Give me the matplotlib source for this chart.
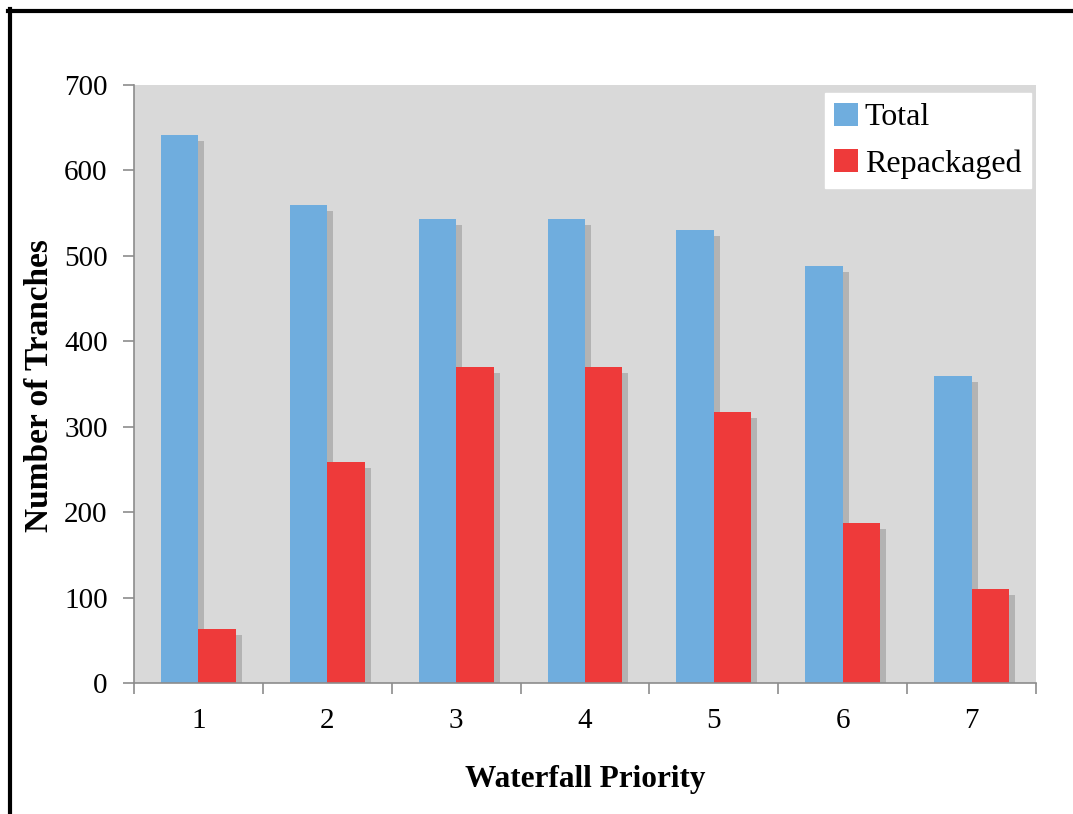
import matplotlib
matplotlib.use("Agg")
import matplotlib.pyplot as plt
import matplotlib.transforms as mtransforms
from matplotlib.lines import Line2D
import numpy as np

# Tranche counts by waterfall priority
priorities = ["1", "2", "3", "4", "5", "6", "7"]
total = [642, 559, 543, 543, 530, 488, 359]
repackaged = [63, 259, 370, 370, 317, 187, 110]

plt.rcParams["font.family"] = ["Liberation Serif", "DejaVu Serif"]

fig = plt.figure(figsize=(10.73, 8.14), dpi=100)
ax = fig.add_axes([134 / 1073, 1 - 683 / 814, (1036 - 134) / 1073, (683 - 85) / 814])

blue = "#6FADDE"
red = "#EE3A3A"
shadow = "#B3B3B3"
ax.set_facecolor("#D9D9D9")

x = np.arange(1, len(priorities) + 1)
w = 0.29

# drop shadows, offset right and down
shift = mtransforms.ScaledTranslation(6 / 100, -6 / 100, fig.dpi_scale_trans)
for vals, offs in ((total, -w / 2), (repackaged, w / 2)):
    sb = ax.bar(x + offs, vals, width=w, color=shadow, zorder=1)
    for p in sb:
        p.set_transform(ax.transData + shift)

ax.bar(x - w / 2, total, width=w, color=blue, zorder=2, label="Total")
ax.bar(x + w / 2, repackaged, width=w, color=red, zorder=2, label="Repackaged")

ax.set_xlim(0.5, len(priorities) + 0.5)
ax.set_ylim(0, 700)
ax.set_yticks(np.arange(0, 701, 100))
ax.set_xticks(x)
ax.set_xticklabels(priorities)
ax.set_xticks(np.arange(0.5, len(priorities) + 1, 1), minor=True)

axis_col = "#8C8C8C"
for s in ("top", "right"):
    ax.spines[s].set_visible(False)
for s in ("left", "bottom"):
    ax.spines[s].set_color(axis_col)
    ax.spines[s].set_linewidth(1.2)

ax.tick_params(axis="x", which="major", length=0, pad=18, labelsize=21)
ax.tick_params(axis="x", which="minor", length=8, color=axis_col, width=1.2)
ax.tick_params(axis="y", length=8, color=axis_col, width=1.2, pad=11, labelsize=21)

ax.set_xlabel("Waterfall Priority", fontsize=22.5, fontweight="bold", labelpad=22)
ax.set_ylabel("Number of Tranches", fontsize=24, fontweight="bold")
ax.yaxis.set_label_coords((55 - 134) / 902, (683 - 386) / 598)

leg = ax.legend(loc="upper right", bbox_to_anchor=((1031 - 134) / 902, (683 - 93) / 598),
                borderaxespad=0, fontsize=23,
                frameon=True, fancybox=False, edgecolor="white", facecolor="white",
                framealpha=1, handlelength=0.75, handleheight=0.75, handletextpad=0.2,
                labelspacing=0.52, borderpad=0.3)

# outer frame lines along top and left edges
fig.add_artist(Line2D([8 / 1073, 1], [1 - 10.5 / 814, 1 - 10.5 / 814],
                      transform=fig.transFigure, color="black", linewidth=3))
fig.add_artist(Line2D([9.5 / 1073, 9.5 / 1073], [0, 1 - 9 / 814],
                      transform=fig.transFigure, color="black", linewidth=3))

fig.savefig("out.png", dpi=100)
